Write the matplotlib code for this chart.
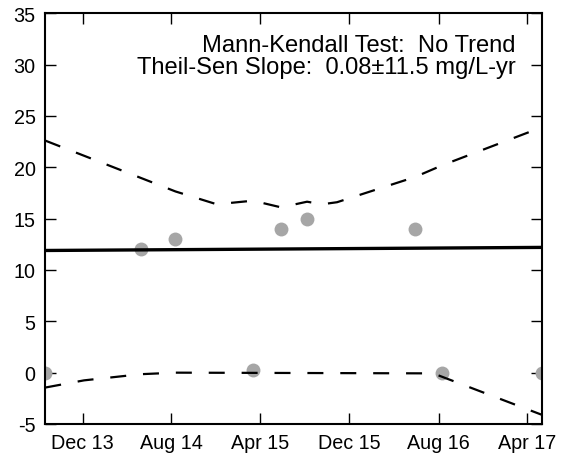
import numpy as np
import pandas as pd
import matplotlib
matplotlib.use("Agg")
import matplotlib.pyplot as plt

plt.rcParams["font.family"] = ["Liberation Sans", "DejaVu Sans"]
plt.rcParams["axes.unicode_minus"] = False

# 측정값 (날짜, mg/L)
DATES = ["2013-08-21", "2014-05-09", "2014-08-12", "2015-03-12", "2015-05-28",
         "2015-08-07", "2016-05-28", "2016-08-11", "2017-05-10"]
VALUES = [0, 12, 13, 0.3, 14, 15, 14, 0, 0]

# Theil-Sen 추세선 (양 끝)
TREND_DATES = ["2013-08-21", "2017-05-10"]
TREND_VALUES = [11.9, 12.2]

# 신뢰구간 상/하한
UPPER_DATES = ["2013-08-21", "2014-08-12", "2014-12-03", "2015-03-12", "2015-05-28",
               "2015-08-07", "2015-09-17", "2015-10-28", "2016-05-28", "2016-08-11",
               "2017-05-10"]
UPPER_VALUES = [22.6, 17.65, 16.4, 16.75, 16.1, 16.65, 16.4, 16.6, 19.05, 20.2, 23.9]
LOWER_DATES = ["2013-08-21", "2013-12-05", "2014-05-09", "2014-08-12", "2016-07-17",
               "2017-05-10"]
LOWER_VALUES = [-1.45, -0.75, -0.15, 0.0, -0.07, -4.1]

TICK_DATES = ["2013-12-01", "2014-08-01", "2015-04-01", "2015-12-01", "2016-08-01",
              "2017-04-01"]
TICK_LABELS = ["Dec 13", "Aug 14", "Apr 15", "Dec 15", "Aug 16", "Apr 17"]
Y_TICKS = [-5, 0, 5, 10, 15, 20, 25, 30, 35]

LINE1 = "Mann-Kendall Test:  No Trend"
LINE2 = "Theil-Sen Slope:  0.08\u00b111.5 mg/L-yr"

d = pd.to_datetime(DATES)
fig = plt.figure(figsize=(5.65, 4.6), dpi=100)
ax = fig.add_axes([0.0802, 0.0761, 0.8786, 0.8928])

ax.plot(d, VALUES, "o", color="#a6a6a6", ms=10, mec="none", zorder=2)
ax.plot(pd.to_datetime(TREND_DATES), TREND_VALUES, color="black", lw=2.4, zorder=3)
dash = (0, (7.2, 7.6))
ax.plot(pd.to_datetime(UPPER_DATES), UPPER_VALUES, color="black", lw=1.6, ls=dash, zorder=3)
ax.plot(pd.to_datetime(LOWER_DATES), LOWER_VALUES, color="black", lw=1.6, ls=dash, zorder=3)

ax.set_xlim(d.min(), d.max())
ax.set_ylim(-5, 35)
ax.set_yticks(Y_TICKS)
ax.set_xticks(pd.to_datetime(TICK_DATES))
ax.set_xticklabels(TICK_LABELS)
for s in ax.spines.values():
    s.set_linewidth(1.5)
ax.tick_params(direction="in", top=True, right=True, length=7.7, width=1,
               labelsize=14.2, colors="black")
ax.tick_params(axis="y", pad=7)
ax.tick_params(axis="x", pad=6.5)

ax.text(0.9476, 0.9075, LINE1, transform=ax.transAxes, ha="right", va="baseline", fontsize=17.1)
ax.text(0.9476, 0.8539, LINE2, transform=ax.transAxes, ha="right", va="baseline", fontsize=17.1)

fig.savefig("out.png", dpi=100)
